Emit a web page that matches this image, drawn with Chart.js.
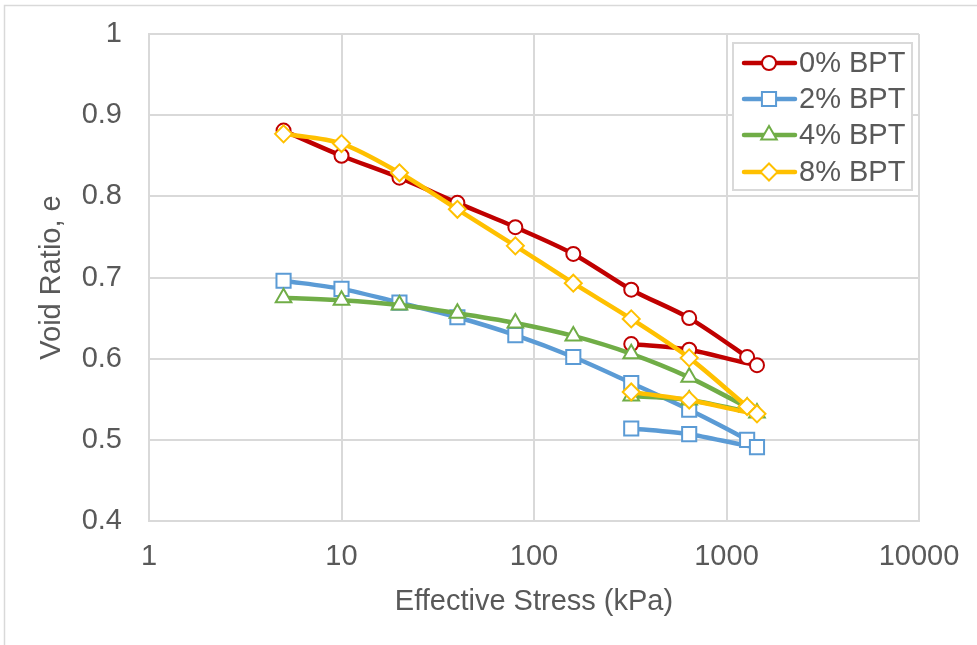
<!DOCTYPE html>
<html>
<head>
<meta charset="utf-8">
<script src="https://cdn.jsdelivr.net/npm/chart.js@4/dist/chart.umd.min.js"></script>
<style>
  html, body { margin: 0; padding: 0; background: #fff; }
  #wrap { position: relative; width: 977px; height: 645px; }
</style>
</head>
<body>
<div id="wrap"><canvas id="maincanvas" width="977" height="645"></canvas></div>
<script>
// effective stress steps: loading to 1440 kPa, then unloading
var stress = [5, 10, 20, 40, 80, 160, 320, 640, 1280, 1440, 640, 320];

var ratio0 = [0.881, 0.850, 0.823, 0.792, 0.762, 0.729, 0.685, 0.650, 0.602, 0.592, 0.611, 0.618];
var ratio2 = [0.696, 0.686, 0.669, 0.651, 0.629, 0.602, 0.570, 0.537, 0.500, 0.491, 0.507, 0.514];
var ratio4 = [0.675, 0.672, 0.666, 0.656, 0.644, 0.628, 0.606, 0.577, 0.540, 0.533, 0.549, 0.554];
var ratio8 = [0.877, 0.865, 0.829, 0.784, 0.739, 0.693, 0.649, 0.601, 0.541, 0.532, 0.549, 0.559];

var seriesNames = ["0% BPT", "2% BPT", "4% BPT", "8% BPT"];
var xTicks = [1, 10, 100, 1000, 10000];

var textColor = "#595959";
var gridColor = "#d9d9d9";
var fontFamily = "'Liberation Sans', Arial, sans-serif";

function pts(ys) {
    return stress.map(function (x, i) { return { x: x, y: ys[i] }; });
}

function series(name, ys, color, shape, radius, order) {
    return {
        label: name,
        data: pts(ys),
        showLine: true,
        borderColor: color,
        borderWidth: 4.5,
        tension: 0.3,
        pointStyle: shape,
        pointRadius: radius,
        pointHoverRadius: radius,
        pointBackgroundColor: "#ffffff",
        pointBorderColor: color,
        pointBorderWidth: 2,
        order: order
    };
}

// legend box drawn inside the plot, top right
var boxLegend = {
    id: "boxLegend",
    afterDatasetsDraw: function (chart) {
        var ctx = chart.ctx;
        ctx.save();
        ctx.fillStyle = "#ffffff";
        ctx.fillRect(733, 43, 179, 147);
        ctx.strokeStyle = gridColor;
        ctx.lineWidth = 2;
        ctx.strokeRect(733, 43, 179, 147);
        var rows = [63, 99, 135, 172];
        chart.data.datasets.forEach(function (ds, i) {
            var y = rows[i];
            ctx.strokeStyle = ds.borderColor;
            ctx.lineWidth = 4.5;
            ctx.lineCap = "round";
            ctx.beginPath();
            ctx.moveTo(744, y);
            ctx.lineTo(795, y);
            ctx.stroke();
            ctx.fillStyle = "#ffffff";
            ctx.strokeStyle = ds.borderColor;
            ctx.lineWidth = 2;
            Chart.helpers.drawPoint(ctx, {
                pointStyle: ds.pointStyle,
                radius: ds.pointRadius,
                rotation: 0,
                borderWidth: 2
            }, 769, y);
            ctx.fillStyle = textColor;
            ctx.font = "29px " + fontFamily;
            ctx.textBaseline = "middle";
            ctx.textAlign = "left";
            ctx.fillText(ds.label, 799, y + 1);
        });
        ctx.restore();
    },
    beforeDraw: function (chart) {
        var ctx = chart.ctx;
        ctx.save();
        ctx.strokeStyle = gridColor;
        ctx.lineWidth = 1.5;
        ctx.beginPath();
        ctx.moveTo(4.5, 645);
        ctx.lineTo(4.5, 5.5);
        ctx.lineTo(977, 5.5);
        ctx.stroke();
        ctx.restore();
    }
};

var mainchart = document.getElementById("maincanvas").getContext("2d");
var mainLineChart = new Chart(mainchart, {
    type: "scatter",
    data: {
        datasets: [
            series(seriesNames[0], ratio0, "#c00000", "circle", 7, 3),
            series(seriesNames[1], ratio2, "#5b9bd5", "rect", 10, 2),
            series(seriesNames[2], ratio4, "#70ad47", "triangle", 9, 1),
            series(seriesNames[3], ratio8, "#ffc000", "rectRot", 8.5, 0)
        ]
    },
    options: {
        responsive: false,
        animation: false,
        layout: { padding: { top: 0, right: 58, left: 0, bottom: 0 } },
        plugins: {
            legend: { display: false },
            tooltip: { enabled: false }
        },
        scales: {
            x: {
                type: "logarithmic",
                min: 1,
                max: 10000,
                afterBuildTicks: function (scale) {
                    scale.ticks = xTicks.map(function (v) { return { value: v }; });
                },
                afterFit: function (scale) {
                    scale.height = 124;
                    scale.paddingLeft = 0;
                    scale.paddingRight = 0;
                },
                ticks: {
                    color: textColor,
                    font: { family: fontFamily, size: 29 },
                    padding: 19,
                    maxRotation: 0,
                    autoSkip: false,
                    callback: function (v) { return String(v); }
                },
                grid: { color: gridColor, lineWidth: 2, drawTicks: false },
                border: { color: gridColor, width: 2 },
                title: {
                    display: true,
                    text: "Effective Stress (kPa)",
                    color: textColor,
                    font: { family: fontFamily, size: 29 },
                    padding: { top: 0, bottom: 26 }
                }
            },
            y: {
                min: 0.4,
                max: 1,
                afterFit: function (scale) {
                    scale.width = 149;
                    scale.paddingTop = 34;
                    scale.paddingBottom = 0;
                },
                ticks: {
                    stepSize: 0.1,
                    color: textColor,
                    font: { family: fontFamily, size: 29 },
                    padding: 27,
                    callback: function (v) { return String(+v.toFixed(1)); }
                },
                grid: { color: gridColor, lineWidth: 2, drawTicks: false },
                border: { color: gridColor, width: 2 },
                title: {
                    display: true,
                    text: "Void Ratio, e",
                    color: textColor,
                    font: { family: fontFamily, size: 29 },
                    padding: { top: 35, bottom: 0 }
                }
            }
        }
    },
    plugins: [boxLegend]
});
</script>
</body>
</html>
